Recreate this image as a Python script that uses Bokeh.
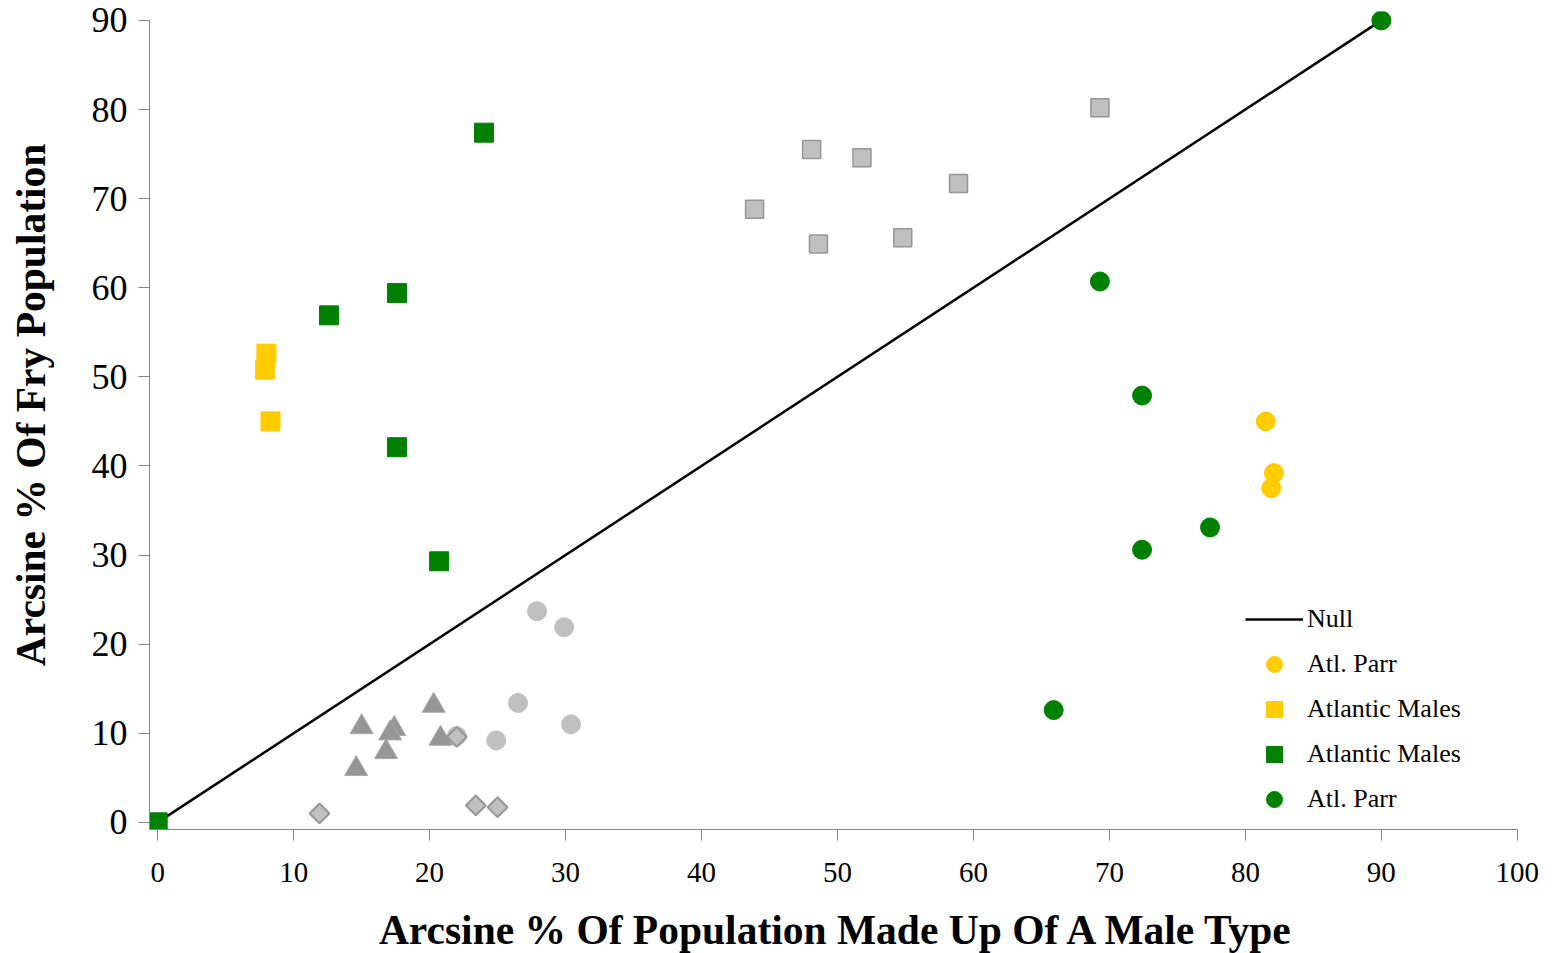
from bokeh.plotting import figure
from bokeh.models import Range1d, Legend, LegendItem, FixedTicker
from bokeh.embed import file_html
from bokeh.resources import INLINE
import math

# ---- data ----
null_x = [0, 90]
null_y = [0, 90]

gold_parr_x = [81.5, 82.1, 81.9]
gold_parr_y = [45.0, 39.2, 37.5]

gold_males_x = [8.0, 7.9, 8.3]
gold_males_y = [52.6, 50.8, 45.0]

green_males_x = [0.0, 12.6, 17.6, 24.0, 17.6, 20.7]
green_males_y = [0.0, 56.9, 59.4, 77.4, 42.1, 29.3]

green_parr_x = [90.0, 69.3, 72.4, 77.4, 72.4, 65.9]
green_parr_y = [90.0, 60.7, 47.9, 33.1, 30.6, 12.6]

grey_sq_x = [69.3, 48.1, 51.8, 43.9, 58.9, 48.6, 54.8]
grey_sq_y = [80.2, 75.5, 74.6, 68.8, 71.7, 64.9, 65.6]

grey_circ_x = [27.9, 29.9, 26.5, 30.4, 24.9, 22.0]
grey_circ_y = [23.7, 21.9, 13.4, 11.0, 9.2, 9.7]

grey_tri_x = [15.0, 20.3, 17.4, 17.1, 16.8, 14.6, 20.8]
grey_tri_y = [10.7, 13.1, 10.5, 10.0, 7.9, 6.0, 9.4]

grey_dia_x = [22.0, 11.9, 23.4, 25.0]
grey_dia_y = [9.6, 1.0, 1.9, 1.7]

x_ticks = [0, 10, 20, 30, 40, 50, 60, 70, 80, 90, 100]
y_ticks = [0, 10, 20, 30, 40, 50, 60, 70, 80, 90]

x_title = "Arcsine % Of Population Made Up Of A Male Type"
y_title = "Arcsine % Of Fry Population"

GREEN = "#008000"
GOLD = "#FFCC00"
LGREY = "#C0C0C0"
DGREY = "#969696"
FONT = "Liberation Serif"

X0, X1 = -0.6, 100.6
Y0, Y1 = -0.8, 91

p = figure(frame_width=1376, frame_height=818,
           x_range=Range1d(X0, X1), y_range=Range1d(Y0, Y1),
           output_backend="svg", toolbar_location=None,
           min_border_left=149, min_border_top=11,
           min_border_right=19, min_border_bottom=116)

p.xgrid.visible = False
p.ygrid.visible = False
p.outline_line_color = None
p.background_fill_color = "white"
p.border_fill_color = "white"

for ax, ticks in ((p.xaxis, x_ticks), (p.yaxis, y_ticks)):
    ax.ticker = FixedTicker(ticks=ticks)
    ax.axis_line_color = "#868686"
    ax.major_tick_line_color = "#868686"
    ax.minor_tick_line_color = None
    ax.major_tick_out = 11
    ax.major_tick_in = 0
    ax.major_label_text_font = FONT
    ax.major_label_text_color = "black"
    ax.axis_label_text_font = FONT
    ax.axis_label_text_font_style = "bold"
    ax.axis_label_text_color = "black"

p.xaxis.bounds = (X0, 100)
p.yaxis.bounds = (Y0, 90)
p.xaxis.major_label_text_font_size = "29px"
p.yaxis.major_label_text_font_size = "36px"
p.xaxis.major_label_standoff = 22
p.yaxis.major_label_standoff = 11
p.xaxis.axis_label = x_title
p.xaxis.axis_label_text_font_size = "41.5px"
p.xaxis.axis_label_standoff = 22
# leading no-break spaces nudge the title slightly upward, as in the reference
p.yaxis.axis_label = "\u00a0\u00a0\u00a0" + y_title
p.yaxis.axis_label_text_font_size = "41.5px"
p.yaxis.axis_label_standoff = 35

null_r = p.line(null_x, null_y, line_color="black", line_width=2.5)

p.scatter(grey_sq_x, grey_sq_y, marker="square", size=18,
          fill_color=LGREY, line_color=DGREY, line_width=1.5)
p.scatter(grey_circ_x, grey_circ_y, marker="circle", size=19,
          fill_color=LGREY, line_color=LGREY)
p.scatter(grey_tri_x, grey_tri_y, marker="triangle", size=23,
          fill_color=DGREY, line_color="#A8A8A8", line_width=1)
p.scatter(grey_dia_x, grey_dia_y, marker="square", angle=math.pi / 4, size=14,
          fill_color=LGREY, line_color=DGREY, line_width=2)

gp = p.scatter(gold_parr_x, gold_parr_y, marker="circle", size=19,
               fill_color=GOLD, line_color=GOLD)
gm = p.scatter(gold_males_x, gold_males_y, marker="square", size=19,
               fill_color=GOLD, line_color=GOLD)
grm = p.scatter(green_males_x, green_males_y, marker="square", size=19,
                fill_color=GREEN, line_color=GREEN)
grp = p.scatter(green_parr_x, green_parr_y, marker="circle", size=19,
                fill_color=GREEN, line_color=GREEN)

legend = Legend(items=[
    LegendItem(label="Null", renderers=[null_r]),
    LegendItem(label="Atl. Parr", renderers=[gp]),
    LegendItem(label="Atlantic Males", renderers=[gm]),
    LegendItem(label="Atlantic Males", renderers=[grm]),
    LegendItem(label="Atl. Parr", renderers=[grp]),
], location=(1096, 10))
legend.border_line_color = None
legend.background_fill_alpha = 0
legend.padding = 0
legend.margin = 0
legend.spacing = 5
legend.glyph_width = 58
legend.glyph_height = 40
legend.label_height = 40
legend.label_standoff = 4
legend.label_text_font = FONT
legend.label_text_font_size = "26px"
legend.label_text_color = "black"
p.add_layout(legend, "center")

open("out.html", "w").write(file_html(p, INLINE))
